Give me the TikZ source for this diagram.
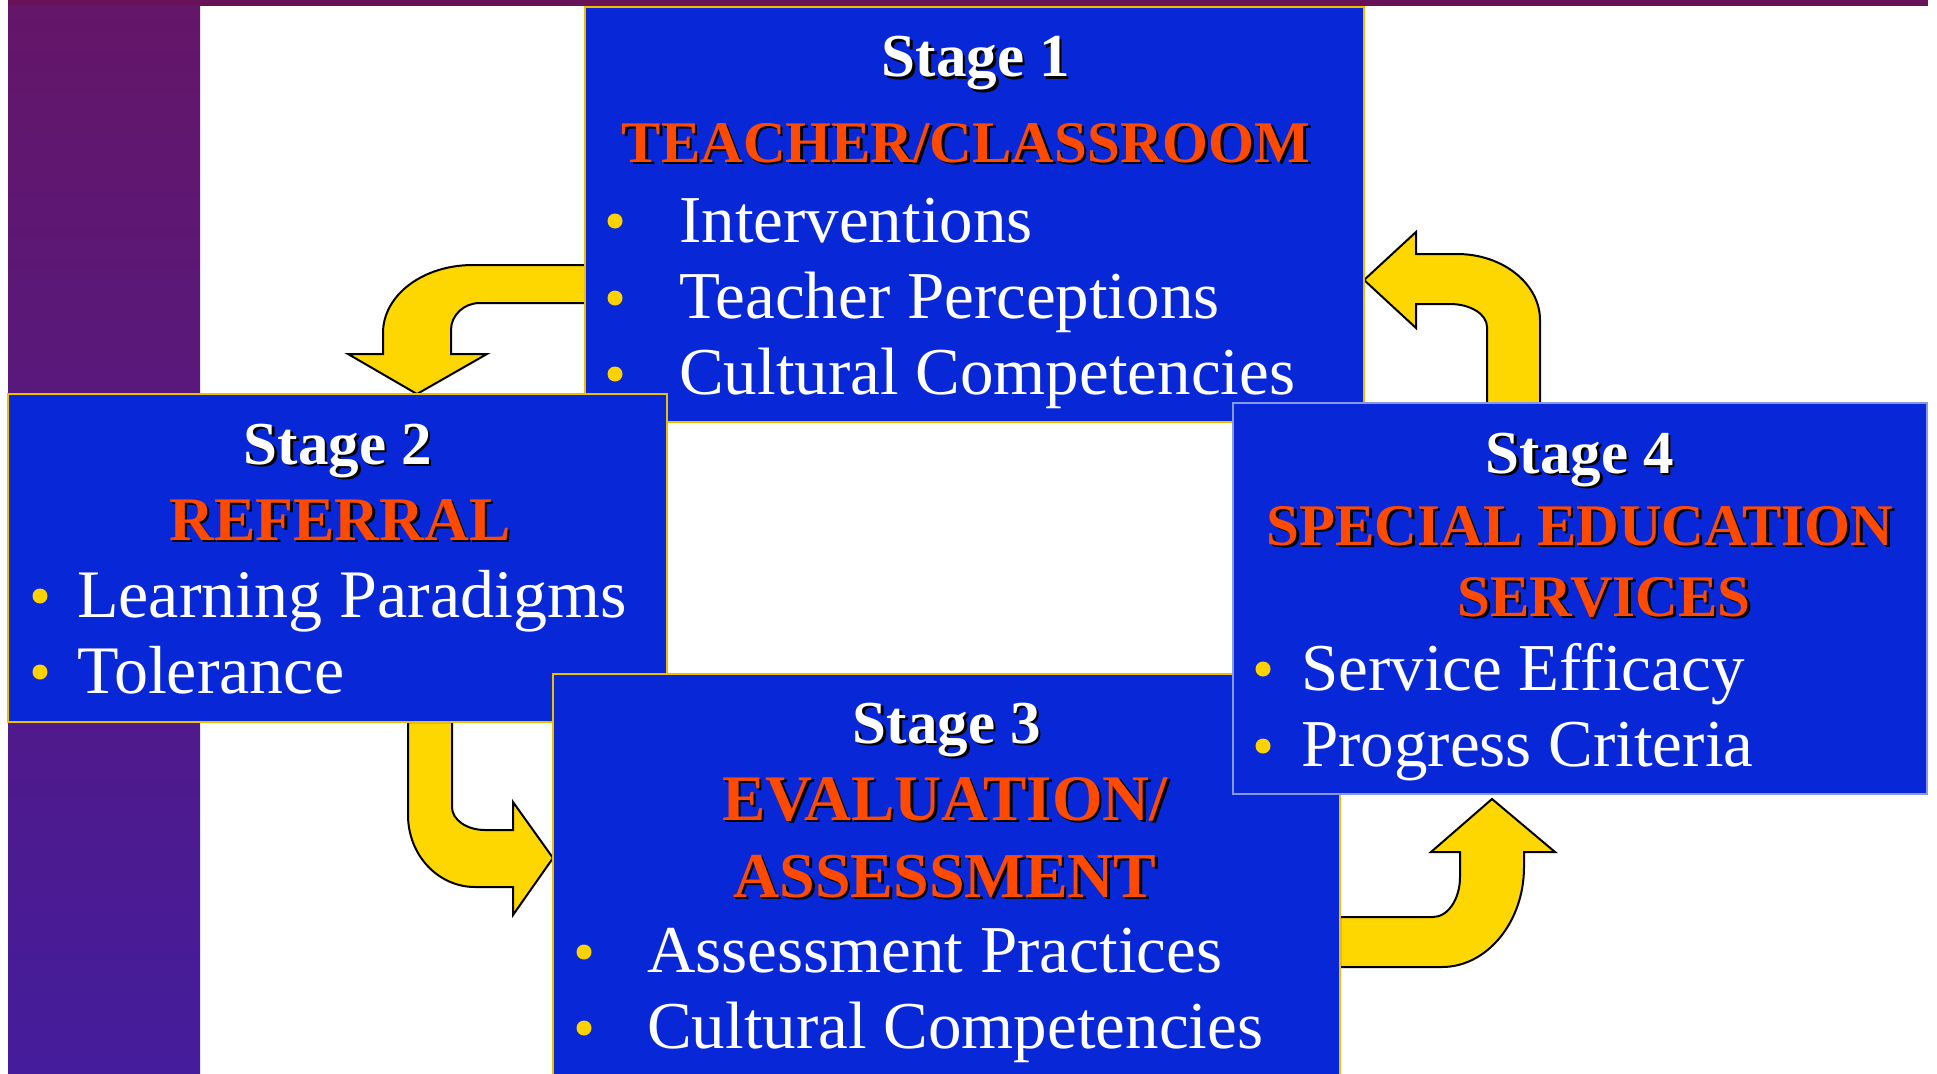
\documentclass[tikz,border=0pt]{standalone}
\usepackage{fontspec}
\setmainfont{Liberation Serif}
\usetikzlibrary{calc}
\definecolor{boxblue}{HTML}{0828D8}
\definecolor{titleorange}{HTML}{FF4A00}
\definecolor{bulletyellow}{HTML}{FFD200}
\definecolor{arrowyellow}{HTML}{FFD700}
\definecolor{boxgold}{HTML}{ECC000}
\definecolor{sfourborder}{HTML}{8898E8}
\definecolor{bandpurple}{HTML}{6A1258}
\definecolor{bartop}{HTML}{641668}
\definecolor{barbottom}{HTML}{451C9C}
\newcommand\txtshadow[1]{\makebox[0pt][l]{\hspace*{2.5pt}\raisebox{-2.5pt}{\textcolor{black}{#1}}}#1}
\pgfdeclarelayer{bg}
\pgfsetlayers{bg,main}
\tikzset{
  stagebox/.style={rectangle, draw=boxgold, line width=2pt, fill=boxblue, inner sep=0pt, outer sep=0pt, anchor=north west},
  stagelbl/.style={text=white, font=\fontsize{61}{70}\selectfont\bfseries, anchor=base, inner sep=0pt},
  titlelbl/.style={text=titleorange, font=\fontsize{#1}{#1}\selectfont\bfseries, anchor=base, inner sep=0pt},
  itemlbl/.style={text=white, font=\fontsize{67}{78}\selectfont, anchor=base west, inner sep=0pt},
  bulletdot/.style={fill=bulletyellow},
  blockarrow/.style={fill=arrowyellow, draw=black, line width=2pt, line join=miter}
}
\begin{document}
\begin{tikzpicture}[x=1pt,y=-1pt]
\useasboundingbox (0,0) rectangle (1937,1073);

% ---------- boxes and texts ----------
\node[stagebox, minimum width=779pt, minimum height=415pt] (s1) at (585,7) {};
\node[stagelbl] (s1n) at (976,77) {\txtshadow{Stage 1}};
\node[titlelbl=59] (s1h) at (966,162) {\txtshadow{TEACHER/CLASSROOM}};
\fill[bulletdot] (615,221) circle (7.5pt);
\fill[bulletdot] (615,298) circle (7.5pt);
\fill[bulletdot] (615,374) circle (7.5pt);
\node[itemlbl] (s1a) at (679,242) {Interventions};
\node[itemlbl] (s1b) at (679,318) {Teacher Perceptions};
\node[itemlbl] (s1c) at (679,394) {Cultural Competencies};

\node[stagebox, minimum width=659pt, minimum height=328pt] (s2) at (8,394) {};
\node[stagelbl] (s2n) at (338,464) {\txtshadow{Stage 2}};
\node[titlelbl=62] (s2h) at (340,540) {\txtshadow{REFERRAL}};
\fill[bulletdot] (40,596) circle (7.5pt);
\fill[bulletdot] (40,672) circle (7.5pt);
\node[itemlbl, font=\fontsize{68}{78}\selectfont] (s2a) at (77,617) {Learning Paradigms};
\node[itemlbl, font=\fontsize{68}{78}\selectfont] (s2b) at (77,693) {Tolerance};

\node[stagebox, minimum width=787pt, minimum height=402pt] (s3) at (553,674) {};
\node[stagelbl] (s3n) at (947,743) {\txtshadow{Stage 3}};
\node[titlelbl=65] (s3h) at (945,820) {\txtshadow{EVALUATION/}};
\node[titlelbl=64] (s3i) at (945,897) {\txtshadow{ASSESSMENT}};
\fill[bulletdot] (584,952) circle (7.5pt);
\fill[bulletdot] (584,1028) circle (7.5pt);
\node[itemlbl] (s3a) at (647,972) {Assessment Practices};
\node[itemlbl] (s3b) at (647,1048) {Cultural Competencies};

\node[stagebox, draw=sfourborder, minimum width=694pt, minimum height=391pt] (s4) at (1233,403) {};
\node[stagelbl] (s4n) at (1580,473) {\txtshadow{Stage 4}};
\node[titlelbl=59] (s4h) at (1580,545) {\txtshadow{SPECIAL EDUCATION}};
\node[titlelbl=59] (s4i) at (1604,616) {\txtshadow{SERVICES}};
\fill[bulletdot] (1263,669) circle (7.5pt);
\fill[bulletdot] (1263,746) circle (7.5pt);
\node[itemlbl] (s4a) at (1301,690) {Service Efficacy};
\node[itemlbl] (s4b) at (1301,766) {Progress Criteria};

% ---------- background and arrows ----------
\begin{pgfonlayer}{bg}
\fill[white] (0,0) rectangle (1937,1073);
\shade[top color=bartop, bottom color=barbottom] (8,0) rectangle (200,1073);
\fill[bandpurple] (8,0) rectangle (1928,6);

% Stage 1 -> Stage 2
\draw[blockarrow] (s1.west |- 0,265) -- (473,265)
  .. controls (423,265) and (383,295) .. (383,333) -- (383,354) -- (348,354)
  -- (s2.north -| 417,0) -- (487,354) -- (451,354) -- (451,330)
  .. controls (451,315) and (464,303) .. (480,303) -- (s1.west |- 0,303) -- cycle;

% Stage 2 -> Stage 3
\draw[blockarrow] (s2.south -| 408,0) -- (408,815)
  .. controls (408,855) and (438,887) .. (475,887) -- (513,887) -- (513,915)
  -- (s3.west |- 0,858) -- (513,802) -- (513,830) -- (485,830)
  .. controls (467,830) and (452,820) .. (452,807) -- (s2.south -| 452,0) -- cycle;

% Stage 3 -> Stage 4
\draw[blockarrow] (s3.east |- 0,917) -- (1433,917)
  .. controls (1448,917) and (1460,899) .. (1460,877) -- (1460,852) -- (1431,852)
  -- ($(s4.south -| 1492,0)+(0,5)$) -- (1555,852) -- (1524,852) -- (1524,867)
  .. controls (1524,922) and (1487,967) .. (1442,967) -- (s3.east |- 0,967) -- cycle;

% Stage 4 -> Stage 1
\draw[blockarrow] (s1.east |- 0,280) -- (1416,232) -- (1416,254) -- (1457,254)
  .. controls (1503,254) and (1540,284) .. (1540,320) -- (s4.north -| 1540,0)
  -- (s4.north -| 1487,0) -- (1487,327)
  .. controls (1487,314) and (1470,304) .. (1450,304) -- (1416,304) -- (1416,328) -- cycle;
\end{pgfonlayer}
\end{tikzpicture}
\end{document}
